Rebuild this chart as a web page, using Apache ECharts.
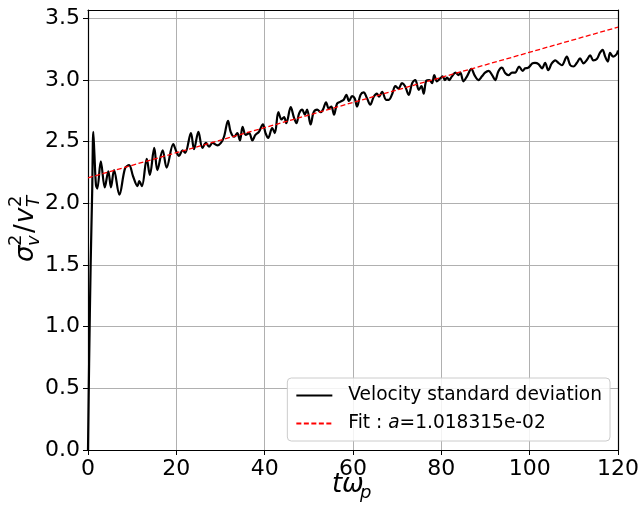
<!DOCTYPE html>
<html><head><meta charset="utf-8">
<script src="https://cdn.jsdelivr.net/npm/echarts@6/dist/echarts.min.js"></script>
<style>html,body{margin:0;padding:0;background:#fff}#c{width:642px;height:509px}</style>
</head><body><div id="c"></div>
<script>
const tVals = [0, 0.25, 0.6, 0.95, 1.2, 1.45, 1.8, 2.1, 2.9, 3.8, 4.6, 5.2, 5.9, 7.1, 8.4, 9.3, 10.2, 11.2, 11.6, 12.2, 13.3, 14.0, 15.0, 15.7, 16.9, 17.8, 19.3, 20.0, 20.6, 21.4, 22.0, 23.3, 24.0, 25.0, 25.9, 26.7, 27.4, 28.2, 29.3, 30.1, 30.8, 31.7, 32.3, 33.1, 33.8, 34.4, 35.0, 35.7, 36.5, 37.2, 37.9, 38.7, 39.6, 40.2, 40.8, 41.7, 42.3, 43.1, 43.8, 44.4, 44.9, 45.9, 46.6, 47.2, 47.8, 48.5, 49.1, 49.6, 50.4, 51.1, 51.9, 52.7, 53.2, 53.9, 54.5, 55.1, 55.7, 56.4, 57.2, 57.9, 58.5, 59.1, 59.8, 60.4, 60.9, 61.7, 62.4, 63.2, 63.9, 64.7, 65.4, 65.9, 66.6, 67.5, 68.1, 68.8, 69.6, 70.3, 71.1, 71.8, 72.6, 73.4, 74.1, 74.9, 75.5, 76.0, 76.6, 77.3, 77.9, 78.4, 79.0, 79.8, 80.3, 80.8, 81.3, 81.8, 82.4, 83.2, 83.9, 84.3, 85.0, 85.8, 86.8, 87.5, 88.4, 89.2, 89.9, 90.7, 91.5, 92.2, 92.9, 93.7, 94.5, 95.2, 96.0, 96.7, 97.6, 98.4, 99.0, 99.7, 100.6, 101.2, 102.0, 102.8, 103.5, 104.2, 105.0, 105.8, 106.5, 107.3, 108.4, 109.2, 109.9, 110.7, 111.4, 112.2, 112.9, 113.7, 114.4, 115.2, 115.9, 116.5, 117.1, 117.7, 118.2, 118.9, 119.7, 120.0];
const vVals = [0, 0.7, 1.5, 2.1, 2.58, 2.4, 2.15, 2.12, 2.34, 2.13, 2.26, 2.13, 2.27, 2.07, 2.285, 2.31, 2.22, 2.14, 2.18, 2.14, 2.36, 2.23, 2.45, 2.27, 2.43, 2.29, 2.48, 2.42, 2.385, 2.43, 2.41, 2.57, 2.44, 2.58, 2.45, 2.49, 2.46, 2.49, 2.47, 2.49, 2.54, 2.67, 2.58, 2.54, 2.57, 2.51, 2.62, 2.555, 2.57, 2.51, 2.555, 2.58, 2.64, 2.57, 2.53, 2.61, 2.57, 2.74, 2.68, 2.70, 2.65, 2.78, 2.70, 2.65, 2.73, 2.76, 2.72, 2.76, 2.64, 2.74, 2.76, 2.74, 2.76, 2.82, 2.77, 2.785, 2.72, 2.81, 2.825, 2.84, 2.88, 2.83, 2.87, 2.85, 2.785, 2.88, 2.90, 2.85, 2.80, 2.865, 2.89, 2.865, 2.905, 2.84, 2.84, 2.88, 2.95, 2.93, 2.975, 2.95, 2.88, 2.975, 3.00, 2.92, 2.95, 2.89, 2.995, 3.00, 2.975, 3.04, 2.99, 3.015, 3.03, 3.00, 3.02, 3.00, 3.03, 3.06, 3.04, 3.06, 2.99, 3.03, 3.09, 3.04, 3.00, 3.03, 3.06, 3.075, 3.04, 3.00, 3.07, 3.10, 3.055, 3.04, 3.06, 3.06, 3.11, 3.075, 3.095, 3.10, 3.135, 3.14, 3.13, 3.095, 3.14, 3.08, 3.135, 3.16, 3.14, 3.12, 3.19, 3.12, 3.11, 3.14, 3.175, 3.135, 3.16, 3.20, 3.16, 3.17, 3.22, 3.245, 3.19, 3.15, 3.22, 3.19, 3.21, 3.24];
const fitT = [0, 120];
const fitV = [2.207, 3.429];
const xTicks = [0, 20, 40, 60, 80, 100, 120];
const yTicks = [0, 0.5, 1.0, 1.5, 2.0, 2.5, 3.0, 3.5];
const seriesNames = ['Velocity standard deviation', 'Fit : a=1.018315e-02'];

const FONT = 'DejaVu Sans';
const chart = echarts.init(document.getElementById('c'), null, {renderer: 'canvas'});
const lineData = tVals.map((t, i) => [t, vVals[i]]);
const fitData = fitT.map((t, i) => [t, fitV[i]]);
const ymax = 3.568;
const isTick = (v, arr) => arr.some(a => Math.abs(a - v) < 1e-6);

const it = (text, x, y, size, italic) => ({
  type: 'text', x: x, y: y,
  style: {text: text, font: (italic ? 'italic ' : '') + size + 'px "' + FONT + '"', fill: '#000', textAlign: 'left', textVerticalAlign: 'middle'}
});

chart.setOption({
  animation: false,
  backgroundColor: '#fff',
  grid: {left: 88, right: 23, top: 10, bottom: 59, containLabel: false},
  xAxis: [{
    type: 'value', min: 0, max: 120, interval: 20,
    axisLine: {show: true, onZero: false, lineStyle: {color: '#000', width: 1.2}},
    axisTick: {show: true, length: 5, lineStyle: {color: '#000', width: 1}},
    axisLabel: {color: '#000', fontFamily: FONT, fontSize: 22, margin: 8,
      formatter: v => isTick(v, xTicks) ? String(v) : ''},
    splitLine: {show: true, lineStyle: {color: '#b0b0b0', width: 1}}
  }, {
    type: 'value', position: 'top', min: 0, max: 120,
    axisLine: {show: true, onZero: false, lineStyle: {color: '#000', width: 1.2}},
    axisTick: {show: false}, axisLabel: {show: false}, splitLine: {show: false}
  }],
  yAxis: [{
    type: 'value', min: 0, max: ymax, interval: 0.5,
    axisLine: {show: true, onZero: false, lineStyle: {color: '#000', width: 1.2}},
    axisTick: {show: true, length: 5, lineStyle: {color: '#000', width: 1}, customValues: yTicks},
    axisLabel: {color: '#000', fontFamily: FONT, fontSize: 22, margin: 8, customValues: yTicks,
      formatter: v => isTick(v, yTicks) ? v.toFixed(1) : ''},
    splitLine: {show: true, lineStyle: {color: '#b0b0b0', width: 1}}
  }, {
    type: 'value', position: 'right', min: 0, max: ymax,
    axisLine: {show: true, onZero: false, lineStyle: {color: '#000', width: 1.2}},
    axisTick: {show: false}, axisLabel: {show: false}, splitLine: {show: false}
  }],
  legend: {
    orient: 'vertical', right: 32, bottom: 68,
    data: seriesNames.map(n => ({name: n, itemStyle: {opacity: 0}})),
    backgroundColor: 'rgba(255,255,255,0.85)', borderColor: '#cccccc', borderWidth: 1, borderRadius: 4,
    padding: [8, 8, 8, 8], itemGap: 9, itemWidth: 36, itemHeight: 14,
    itemStyle: {opacity: 0},
    textStyle: {color: '#000', fontFamily: FONT, fontSize: 18.6, padding: [0, 0, 0, 11],
      rich: {i: {fontStyle: 'italic', fontFamily: FONT, fontSize: 18.6, color: '#000'}}},
    formatter: n => n === seriesNames[1] ? 'Fit : {i|a}=1.018315e-02' : n
  },
  series: [{
    name: seriesNames[0], type: 'line', data: lineData, symbol: 'none', smooth: 0.35,
    lineStyle: {color: '#000', width: 2.2}, itemStyle: {color: '#000'}, z: 3
  }, {
    name: seriesNames[1], type: 'line', data: fitData, symbol: 'none',
    lineStyle: {color: '#ff0000', width: 1.3, type: [5, 2.5]}, itemStyle: {color: '#ff0000'}, z: 4
  }],
  graphic: [{
    type: 'group', x: 26, y: 262, rotation: Math.PI / 2,
    children: [
      it('σ', 0, 0, 26, true),
      it('2', 16, -10, 18, false),
      it('v', 16, 8, 18, true),
      it('/', 29, 0, 26, false),
      it('v', 39, 0, 26, true),
      it('2', 55, -10, 18, false),
      it('T', 55, 8, 18, true)
    ]
  }, {
    type: 'group', x: 332, y: 485,
    children: [
      it('t', 0, 0, 26, true),
      it('ω', 10, 0, 26, true),
      it('p', 28, 8, 18, true)
    ]
  }]
});
</script>
</body></html>
